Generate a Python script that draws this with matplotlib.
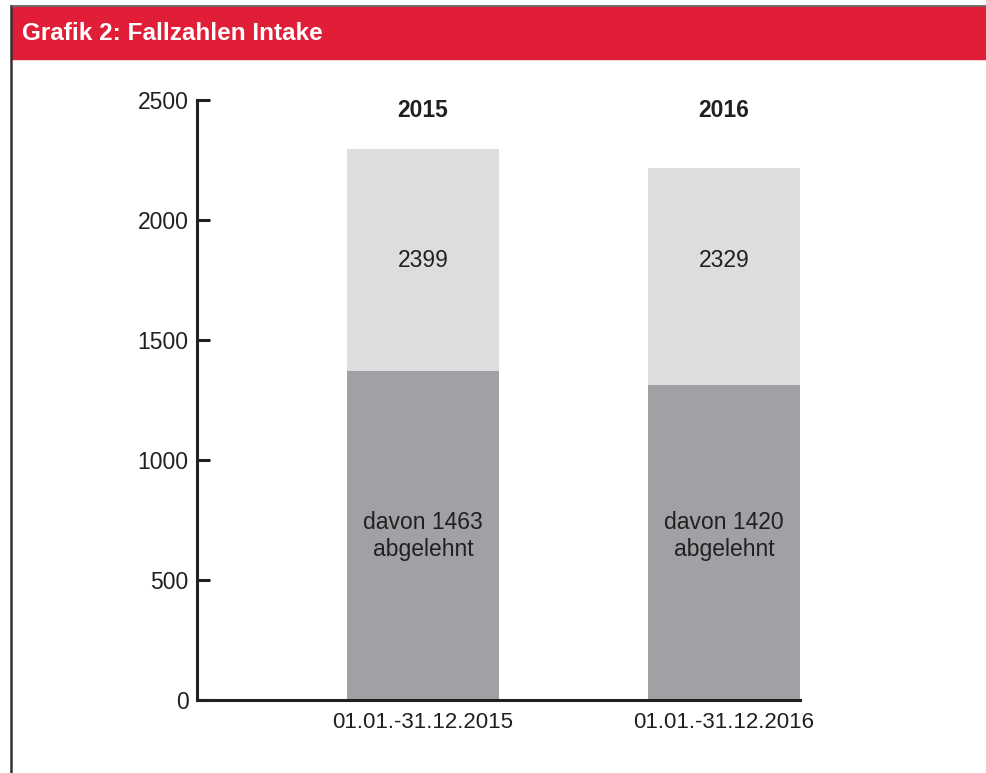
import matplotlib.pyplot as plt
from matplotlib.patches import Rectangle
from matplotlib.lines import Line2D

plt.rcParams['font.family'] = ['Liberation Sans', 'DejaVu Sans']

# Daten (Balkenhöhen, Beschriftungen wie im Original)
jahre = ['2015', '2016']
zeitraum = ['01.01.-31.12.2015', '01.01.-31.12.2016']
gesamt_hoehe = [2296, 2217]
abgelehnt_hoehe = [1371, 1312]
gesamt_label = ['2399', '2329']
abgelehnt_label = ['davon 1463\nabgelehnt', 'davon 1420\nabgelehnt']
y_ticks = [0, 500, 1000, 1500, 2000, 2500]

rot = '#E01E37'
hellgrau = '#DCDDDF'
dunkelgrau = '#A0A1A4'
textfarbe = '#231F20'

fig = plt.figure(figsize=(9.86, 7.73), dpi=100)

# Kopfzeile und Rahmen
fig.patches.append(Rectangle((12 / 986, 1 - 59 / 773), 974 / 986, 52 / 773,
                             transform=fig.transFigure, color=rot, zorder=0))
fig.lines.append(Line2D([11 / 986, 11 / 986], [0, 1 - 6 / 773], transform=fig.transFigure,
                        color='#333333', lw=1.8))
fig.lines.append(Line2D([11 / 986, 1], [1 - 6 / 773, 1 - 6 / 773], transform=fig.transFigure,
                        color='#555555', lw=1.2))
fig.text(22 / 986, 1 - 33 / 773, 'Grafik 2: Fallzahlen Intake', color='white',
         fontsize=17.5, fontweight='bold', va='center', ha='left')

ax = fig.add_axes([197 / 986, 1 - 700 / 773, 603 / 986, 600 / 773])
x = [0, 1]
breite = 0.505
oben = [g - a for g, a in zip(gesamt_hoehe, abgelehnt_hoehe)]
ax.bar(x, abgelehnt_hoehe, width=breite, color=dunkelgrau, zorder=2)
ax.bar(x, oben, width=breite, bottom=abgelehnt_hoehe, color=hellgrau, zorder=2)

for i in range(len(x)):
    ax.text(x[i], 1833, gesamt_label[i], ha='center', va='center', fontsize=16.5, color=textfarbe)
    ax.text(x[i], 683, abgelehnt_label[i], ha='center', va='center', fontsize=16.5,
            color=textfarbe, linespacing=1.25)
    ax.text(x[i], 2458, jahre[i], ha='center', va='center', fontsize=16.5,
            fontweight='bold', color=textfarbe)

ax.set_xlim(-0.751, 1.2525)
ax.set_ylim(0, 2500)
ax.set_yticks(y_ticks)
ax.set_xticks(x)
ax.set_xticklabels(zeitraum)
for s in ['top', 'right']:
    ax.spines[s].set_visible(False)
for s in ['left', 'bottom']:
    ax.spines[s].set_linewidth(2.2)
    ax.spines[s].set_color('#231F20')
    ax.spines[s].set_zorder(3)
ax.tick_params(axis='y', direction='in', length=9, width=2.2, color='#231F20',
               labelsize=16.5, labelcolor=textfarbe, pad=6)
ax.tick_params(axis='x', length=0, labelsize=16, labelcolor=textfarbe, pad=9)

fig.savefig('out.png', dpi=100)
